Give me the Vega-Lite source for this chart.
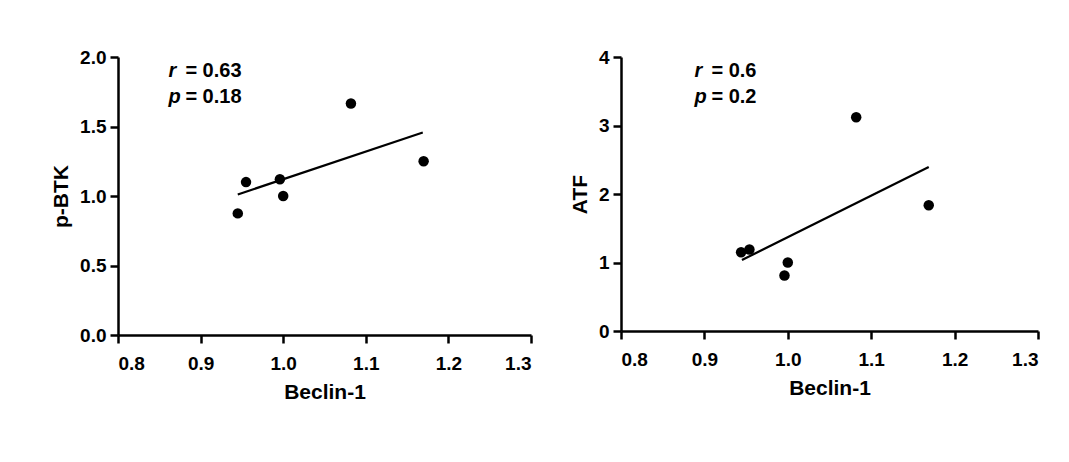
{
  "$schema": "https://vega.github.io/schema/vega-lite/v6.json",
  "background": "white",
  "padding": {"left": 50, "top": 48, "right": 10, "bottom": 10},
  "spacing": 36,
  "datasets": {
    "btk": [
      {"beclin": 0.945, "val": 0.875},
      {"beclin": 0.955, "val": 1.10},
      {"beclin": 0.996, "val": 1.12},
      {"beclin": 1.0, "val": 1.0},
      {"beclin": 1.082, "val": 1.665},
      {"beclin": 1.17, "val": 1.25}
    ],
    "btkfit": [
      {"beclin": 0.945, "val": 1.011},
      {"beclin": 1.169, "val": 1.457}
    ],
    "btknote": [
      {"beclin": 0.861, "val": 1.90, "sym": "r", "rest": "= 0.63"},
      {"beclin": 0.861, "val": 1.712, "sym": "p", "rest": "= 0.18"}
    ],
    "atf": [
      {"beclin": 0.944, "val": 1.15},
      {"beclin": 0.954, "val": 1.19},
      {"beclin": 1.0, "val": 1.0},
      {"beclin": 0.996, "val": 0.81},
      {"beclin": 1.082, "val": 3.12},
      {"beclin": 1.169, "val": 1.835}
    ],
    "atffit": [
      {"beclin": 0.945, "val": 1.036},
      {"beclin": 1.169, "val": 2.395}
    ],
    "atfnote": [
      {"beclin": 0.888, "val": 3.80, "sym": "r", "rest": "= 0.6"},
      {"beclin": 0.888, "val": 3.412, "sym": "p", "rest": "= 0.2"}
    ]
  },
  "config": {
    "view": {"stroke": null},
    "font": "Liberation Sans",
    "axis": {
      "grid": false,
      "domainColor": "black",
      "domainWidth": 2.5,
      "tickColor": "black",
      "tickWidth": 2.5,
      "tickSize": 8,
      "labelFont": "Liberation Sans",
      "labelFontWeight": "bold",
      "labelFontSize": 19,
      "labelColor": "black",
      "labelPadding": 4,
      "titleFont": "Liberation Sans",
      "titleFontWeight": "bold",
      "titleFontSize": 21,
      "titleColor": "black"
    },
    "axisX": {"labelPadding": 11}
  },
  "hconcat": [
    {
      "width": 413,
      "height": 278,
      "layer": [
        {
          "data": {"name": "btk"},
          "mark": {"type": "circle", "size": 110, "color": "black", "opacity": 1},
          "encoding": {
            "x": {"field": "beclin", "type": "quantitative", "scale": {"domain": [0.8, 1.3], "nice": false, "zero": false}, "axis": {"values": [0.8, 0.9, 1.0, 1.1, 1.2, 1.3], "format": ".1f", "title": "Beclin-1", "titlePadding": 8}},
            "y": {"field": "val", "type": "quantitative", "scale": {"domain": [0, 2], "nice": false}, "axis": {"values": [0, 0.5, 1.0, 1.5, 2.0], "format": ".1f", "title": "p-BTK", "titlePadding": 8}}
          }
        },
        {
          "data": {"name": "btkfit"},
          "mark": {"type": "line", "color": "black", "strokeWidth": 2.2},
          "encoding": {
            "x": {"field": "beclin", "type": "quantitative"},
            "y": {"field": "val", "type": "quantitative"}
          }
        },
        {
          "data": {"name": "btknote"},
          "mark": {"type": "text", "align": "left", "baseline": "middle", "fontSize": 20, "fontWeight": "bold", "fontStyle": "italic", "color": "black"},
          "encoding": {
            "x": {"field": "beclin", "type": "quantitative"},
            "y": {"field": "val", "type": "quantitative"},
            "text": {"field": "sym"}
          }
        },
        {
          "data": {"name": "btknote"},
          "mark": {"type": "text", "align": "left", "baseline": "middle", "fontSize": 20, "fontWeight": "bold", "color": "black", "dx": 17},
          "encoding": {
            "x": {"field": "beclin", "type": "quantitative"},
            "y": {"field": "val", "type": "quantitative"},
            "text": {"field": "rest"}
          }
        }
      ]
    },
    {
      "width": 417,
      "height": 274,
      "layer": [
        {
          "data": {"name": "atf"},
          "mark": {"type": "circle", "size": 110, "color": "black", "opacity": 1},
          "encoding": {
            "x": {"field": "beclin", "type": "quantitative", "scale": {"domain": [0.8, 1.3], "nice": false, "zero": false}, "axis": {"values": [0.8, 0.9, 1.0, 1.1, 1.2, 1.3], "format": ".1f", "title": "Beclin-1", "titlePadding": 8}},
            "y": {"field": "val", "type": "quantitative", "scale": {"domain": [0, 4], "nice": false}, "axis": {"values": [0, 1, 2, 3, 4], "format": "d", "title": "ATF", "titlePadding": 8}}
          }
        },
        {
          "data": {"name": "atffit"},
          "mark": {"type": "line", "color": "black", "strokeWidth": 2.2},
          "encoding": {
            "x": {"field": "beclin", "type": "quantitative"},
            "y": {"field": "val", "type": "quantitative"}
          }
        },
        {
          "data": {"name": "atfnote"},
          "mark": {"type": "text", "align": "left", "baseline": "middle", "fontSize": 20, "fontWeight": "bold", "fontStyle": "italic", "color": "black"},
          "encoding": {
            "x": {"field": "beclin", "type": "quantitative"},
            "y": {"field": "val", "type": "quantitative"},
            "text": {"field": "sym"}
          }
        },
        {
          "data": {"name": "atfnote"},
          "mark": {"type": "text", "align": "left", "baseline": "middle", "fontSize": 20, "fontWeight": "bold", "color": "black", "dx": 17},
          "encoding": {
            "x": {"field": "beclin", "type": "quantitative"},
            "y": {"field": "val", "type": "quantitative"},
            "text": {"field": "rest"}
          }
        }
      ]
    }
  ]
}
